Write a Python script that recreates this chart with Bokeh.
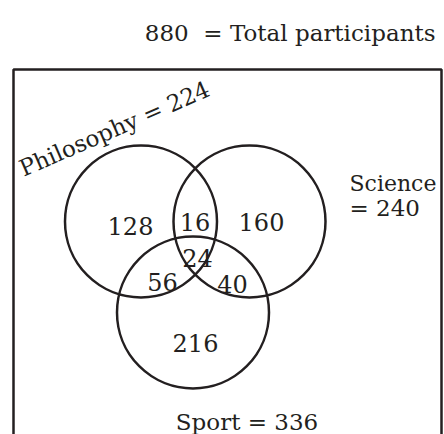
from bokeh.plotting import figure
from bokeh.models import Range1d
from bokeh.embed import file_html
from bokeh.resources import INLINE
from bokeh.core.properties import value

# ---- data ----
total_participants = 880
set_names = ["Philosophy", "Science", "Sport"]
set_totals = [224, 240, 336]
region_names = ["Philosophy only", "Philosophy & Science", "Science only",
                "All three", "Philosophy & Sport", "Science & Sport", "Sport only"]
region_values = [128, 16, 160, 24, 56, 40, 216]

# ---- layout (screen-pixel coordinates) ----
circle_x = [140.5, 249, 192.5]
circle_y = [221, 221, 312]
circle_r = 76
region_x = [130, 194.5, 261, 197, 162, 232, 195]
region_y = [225, 221, 221, 257, 281, 283, 342]

FONT = value("DejaVu Serif")
INK = "#231f20"

p = figure(width=444, height=434, output_backend="svg", toolbar_location=None,
           x_range=Range1d(0, 444), y_range=Range1d(434, 0),
           min_border=0, outline_line_color=None)
p.axis.visible = False
p.grid.visible = False
p.background_fill_color = "white"
p.border_fill_color = "white"

# open-bottom frame
p.line(x=[13, 13, 441, 441], y=[434, 69, 69, 434], line_color=INK, line_width=2.5)

# circles
p.circle(x=circle_x, y=circle_y, radius=circle_r, fill_alpha=0,
         line_color=INK, line_width=2.5)

# region numbers
p.text(x=region_x, y=region_y, text=[str(v) for v in region_values],
       text_font=FONT, text_font_size="24px", text_align="center",
       text_baseline="alphabetic", text_color=INK)

# set labels
p.text(x=[20], y=[169], text=[f"{set_names[0]} = {set_totals[0]}"],
       angle=23.5, angle_units="deg", text_font=FONT, text_font_size="23px",
       text_align="left", text_baseline="alphabetic", text_color=INK)
p.text(x=[349], y=[183], text=[set_names[1]],
       text_font=FONT, text_font_size="22px", text_align="left",
       text_baseline="alphabetic", text_color=INK)
p.text(x=[349], y=[207], text=[f"= {set_totals[1]}"],
       text_font=FONT, text_font_size="23px", text_align="left",
       text_baseline="alphabetic", text_color=INK)
p.text(x=[246.5], y=[421], text=[f"{set_names[2]} = {set_totals[2]}"],
       text_font=FONT, text_font_size="23px", text_align="center",
       text_baseline="alphabetic", text_color=INK)

# total
p.text(x=[435], y=[32], text=[f"{total_participants}\u00a0 = Total participants"],
       text_font=FONT, text_font_size="23px", text_align="right",
       text_baseline="alphabetic", text_color=INK)

open("out.html", "w").write(file_html(p, INLINE))
